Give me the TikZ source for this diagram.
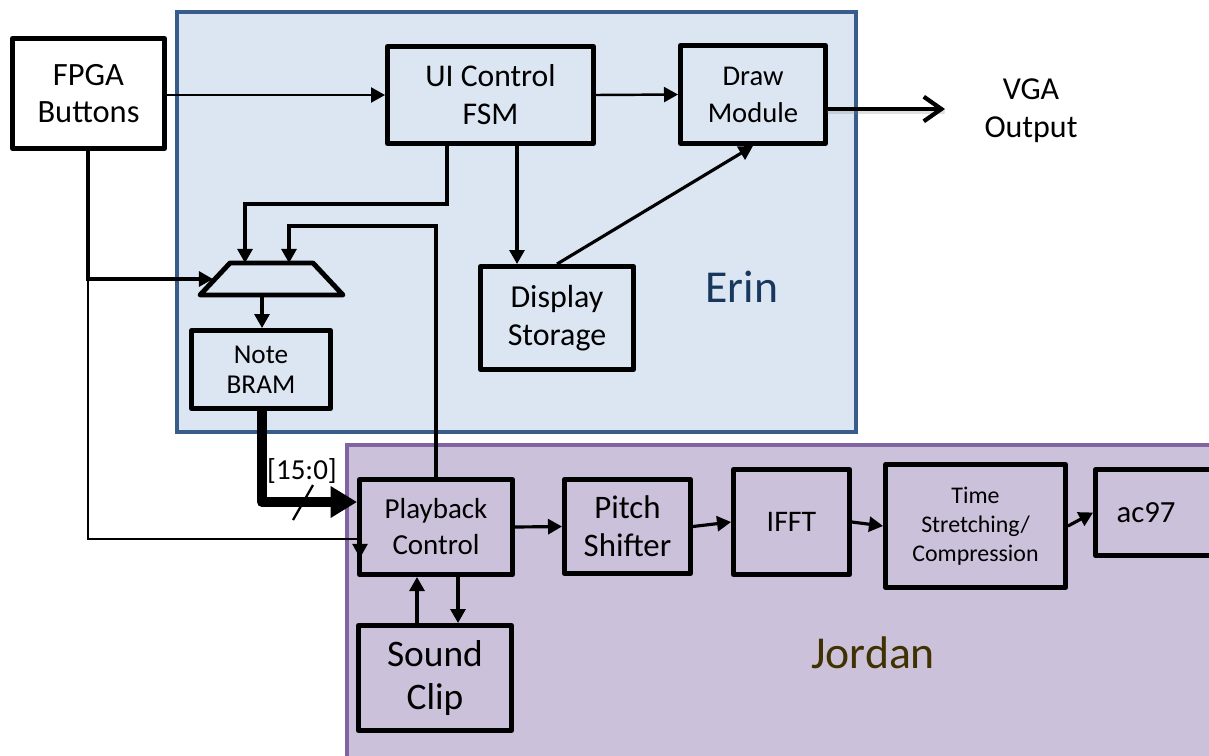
\documentclass[tikz,border=0pt]{standalone}
\usepackage{fontspec}
\setmainfont{Carlito}
\usetikzlibrary{arrows.meta}
\definecolor{erinfill}{RGB}{220,230,242}
\definecolor{erinline}{RGB}{56,93,138}
\definecolor{erintext}{RGB}{23,55,94}
\definecolor{jordanfill}{RGB}{204,193,218}
\definecolor{jordanline}{RGB}{128,100,162}
\definecolor{jordantext}{RGB}{63,49,0}
\begin{document}
\begin{tikzpicture}[x=0.02cm,y=-0.02cm,
  region/.style={line width=2.4pt},
  box/.style={draw=black,line width=2.8pt,line join=round,align=center,inner sep=0pt},
  fbig/.style={font=\fontsize{18}{21.5}\selectfont},
  arr/.style={line width=1.8pt,-{Triangle[length=8pt,width=8.5pt]}},
  thinarr/.style={line width=1.4pt,-{Triangle[length=8pt,width=8.5pt]}},
  bus/.style={line width=5.7pt,line join=round,-{Triangle[length=15pt,width=17pt]}},
  muxline/.style={line width=2.8pt,line join=round},
  owner/.style={font=\fontsize{26}{30}\selectfont,anchor=base}]
\useasboundingbox (0,0) rectangle (1209,755);

% team regions
\begin{scope}
  \clip (0,0) rectangle (1209,755);
  \filldraw[region,fill=erinfill,draw=erinline] (177,12) rectangle (856,432);
  \filldraw[region,fill=jordanfill,draw=jordanline] (347,445) rectangle (1260,800);
\end{scope}
\node[owner,text=erintext] (erin) at (742,302) {Erin};
\node[owner,text=jordantext] (jordan) at (873,668) {Jordan};

% blocks
\node[box,fill=white,font=\fontsize{18.5}{21}\selectfont,minimum width=3.04cm,minimum height=2.2cm] (fpga) at (88.5,93.5) {FPGA\\Buttons};
\node[box,font=\fontsize{18}{21.5}\selectfont,minimum width=4.12cm,minimum height=1.94cm] (ui) at (490.5,95) {UI Control\\FSM};
\node[box,font=\fontsize{16.3}{21}\selectfont,minimum width=2.9cm,minimum height=1.96cm] (draw) at (753,94.5) {Draw\\Module};
\node[box,font=\fontsize{18.2}{22}\selectfont,minimum width=3.06cm,minimum height=2.06cm] (disp) at (557,318) {Display\\Storage};
\node[box,font=\fontsize{15.5}{17}\selectfont,minimum width=2.78cm,minimum height=1.56cm] (note) at (261,369.5) {Note\\BRAM};
\node[box,font=\fontsize{16.5}{20.5}\selectfont,minimum width=3.06cm,minimum height=1.9cm] (play) at (436,527) {Playback\\Control};
\node[box,font=\fontsize{21.3}{25}\selectfont,minimum width=3.06cm,minimum height=2.1cm] (sound) at (435,678) {Sound\\Clip};
\node[box,font=\fontsize{18.7}{21.5}\selectfont,minimum width=2.52cm,minimum height=1.88cm] (pitch) at (627.5,526.5) {Pitch\\Shifter};
\node[box,font=\fontsize{17}{21}\selectfont,minimum width=2.32cm,minimum height=2.1cm] (ifft) at (791.5,522) {IFFT};
\node[box,font=\fontsize{13.6}{16.5}\selectfont,minimum width=3.6cm,minimum height=2.46cm] (time) at (975.5,526) {Time\\Stretching/\\Compression};
\begin{scope}
  \clip (0,0) rectangle (1209,755);
  \node[box,minimum width=2.64cm,minimum height=1.72cm] (ac97) at (1161.5,512.5) {};
\end{scope}
\node[font=\fontsize{17.5}{21}\selectfont] (ac97text) at (1146,513) {ac97};
\node[font=\fontsize{18.2}{21.5}\selectfont,align=center] (vga) at (1031,111) {VGA\\Output};

% input multiplexer
\draw[muxline] (200,295) -- (230,263) -- (313,263) -- (343,295) -- cycle;
\coordinate (muxA) at (245,263);
\coordinate (muxB) at (289,263);
\coordinate (muxS) at (213,279);
\coordinate (muxO) at (262,295);

% helper columns
\coordinate (uix) at (447,0);
\coordinate (dspx) at (517,0);
\coordinate (fpx) at (88,0);
\coordinate (ptx) at (360,0);
\coordinate (sdUp) at (417,0);
\coordinate (sdDn) at (458,0);
\coordinate (vgaEnd) at (945,109);

% control paths
\draw[thinarr] (fpga.east |- ui.west) -- (ui.west);
\draw[thinarr] (ui.east) -- (draw.west);
\draw[arr] (ui.south -| dspx) -- (disp.north -| dspx);
\draw[arr] (disp.north) -- (draw.south);
\draw[arr] (ui.south -| uix) -- (447,204) -| (muxA);
\draw[arr] (play.north) -- (436,226) -| (muxB);
\draw[arr] (fpga.south -| fpx) -- (88,279) -- (muxS);
\draw[thinarr] (88,279) -- (88,539) -| (ptx |- 0,558);
\draw[arr] (muxO) -- (note.north -| muxO);

% video output
\draw[line width=2.4pt,gray,opacity=0.25,line cap=round] (829,112) -- (943,112);
\draw[line width=2.4pt,-{Straight Barb[length=10pt,width=14pt]}] (draw.east |- vgaEnd) -- (vgaEnd);

% sample bus
\draw[bus] (note.south -| muxO) -- (262,502) -- (play.west |- 0,502);
\draw[line width=1.3pt] (313,485) -- (293,520);
\node[font=\fontsize{16.5}{18}\selectfont] (buslabel) at (302,471) {[15:0]};

% audio chain
\draw[arr] (play.east) -- (pitch.west);
\draw[arr] (pitch.east) -- (ifft.west);
\draw[arr] (ifft.east) -- (time.west);
\draw[arr] (time.east) -- (ac97.west);
\draw[arr] (sound.north -| sdUp) -- (play.south -| sdUp);
\draw[arr] (play.south -| sdDn) -- (sound.north -| sdDn);
\end{tikzpicture}
\end{document}
